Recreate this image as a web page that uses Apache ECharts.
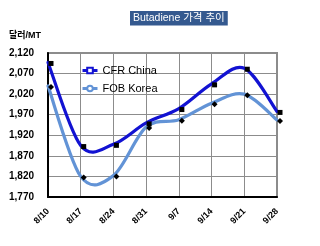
<!DOCTYPE html>
<html>
<head>
<meta charset="utf-8">
<script src="https://cdn.jsdelivr.net/npm/echarts@6/dist/echarts.min.js"></script>
<style>
html,body{margin:0;padding:0;background:#fff;}
#chart{width:320px;height:246px;}
</style>
</head>
<body>
<div id="chart"></div>
<script>
var categories = ['8/10', '8/17', '8/24', '8/31', '9/7', '9/14', '9/21', '9/28'];
var cfrChina = [2097, 1895, 1898, 1950, 1985, 2045, 2083, 1978];
var fobKorea = [2040, 1820, 1822, 1940, 1958, 1998, 2020, 1957];
var yTicks = { min: 1770, max: 2120, interval: 50 };

var chart = echarts.init(document.getElementById('chart'), null, { renderer: 'canvas' });
var font = 'Arial, "Liberation Sans", "Noto Sans CJK KR", sans-serif';
var cfrColor = '#1212D2';
var fobColor = '#6293D6';

// Excel-style smoothed curve through the data points (positions from the axes via api.coord)
function curveSeries(id, values, color, z) {
  return {
    id: id, type: 'custom', z: z, silent: true,
    data: [0],
    renderItem: function (params, api) {
      var p = values.map(function (v, i) { return api.coord([i, v]); });
      var n = p.length;
      var d = 'M' + p[0][0] + ' ' + p[0][1];
      for (var i = 0; i < n - 1; i++) {
        var a = p[Math.max(i - 1, 0)], b = p[i], c = p[i + 1], e = p[Math.min(i + 2, n - 1)];
        var c1x = b[0] + (c[0] - a[0]) / 6, c1y = b[1] + (c[1] - a[1]) / 6;
        var c2x = c[0] - (e[0] - b[0]) / 6, c2y = c[1] - (e[1] - b[1]) / 6;
        d += ' C' + c1x + ' ' + c1y + ' ' + c2x + ' ' + c2y + ' ' + c[0] + ' ' + c[1];
      }
      return {
        type: 'path',
        shape: { pathData: d },
        style: { stroke: color, lineWidth: 3.2, fill: null, lineJoin: 'round', lineCap: 'round' }
      };
    }
  };
}

chart.setOption({
  animation: false,
  backgroundColor: '#fff',
  title: [{
    text: 'Butadiene 가격 추이',
    left: 130, top: 11,
    padding: [2, 3, 2, 3],
    backgroundColor: '#34598F',
    textStyle: { color: '#fff', fontSize: 10.5, fontWeight: 'normal', fontFamily: font }
  }, {
    text: '달러/MT',
    left: 9, top: 31, padding: 0,
    textStyle: { color: '#000', fontSize: 9, fontWeight: 'bold', fontFamily: font }
  }],
  legend: {
    orient: 'vertical',
    left: 81, top: 65, padding: 0,
    itemWidth: 15, itemHeight: 7, itemGap: 7,
    textStyle: { fontSize: 11, color: '#000', fontFamily: font },
    data: [{
      name: 'CFR China',
      itemStyle: { color: '#fff', borderColor: cfrColor, borderWidth: 2, opacity: 1 },
      lineStyle: { color: cfrColor, width: 3, opacity: 1 }
    }, {
      name: 'FOB Korea',
      itemStyle: { color: '#fff', borderColor: fobColor, borderWidth: 2, opacity: 1 },
      lineStyle: { color: fobColor, width: 3, opacity: 1 }
    }]
  },
  grid: {
    left: 48, top: 53, right: 43, bottom: 49,
    show: true, borderColor: '#8c8c8c', borderWidth: 2
  },
  xAxis: {
    type: 'category',
    data: categories,
    boundaryGap: false,
    axisLine: { show: true, lineStyle: { color: '#000', width: 2 } },
    axisTick: { show: false },
    splitLine: { show: true, lineStyle: { color: '#8c8c8c', width: 1 } },
    axisLabel: { rotate: 45, margin: 13, fontSize: 9, fontWeight: 'bold', color: '#000', fontFamily: font, interval: 0 }
  },
  yAxis: {
    type: 'value',
    min: yTicks.min, max: yTicks.max, interval: yTicks.interval,
    axisLine: { show: true, lineStyle: { color: '#000', width: 2 } },
    axisTick: { show: false },
    splitLine: { show: true, lineStyle: { color: '#8c8c8c', width: 1 } },
    axisLabel: {
      margin: 14, fontSize: 10, fontWeight: 'bold', color: '#000', fontFamily: font,
      formatter: function (v) { return v.toLocaleString('en-US'); }
    }
  },
  series: [
    curveSeries('fobCurve', fobKorea, fobColor, 2),
    curveSeries('cfrCurve', cfrChina, cfrColor, 3),
    {
      name: 'CFR China', type: 'line', data: cfrChina,
      symbol: 'rect', symbolSize: 5, symbolOffset: [3, 1],
      lineStyle: { color: cfrColor, width: 3, opacity: 0 },
      itemStyle: { color: '#000' }, z: 4
    }, {
      name: 'FOB Korea', type: 'line',
      data: fobKorea.map(function (v) { return { value: v, symbol: 'diamond', symbolSize: 6 }; }),
      symbol: 'circle', symbolSize: 6, symbolOffset: [3, 1],
      lineStyle: { color: fobColor, width: 3, opacity: 0 },
      itemStyle: { color: '#000' }, z: 4
    }
  ]
});
</script>
</body>
</html>
